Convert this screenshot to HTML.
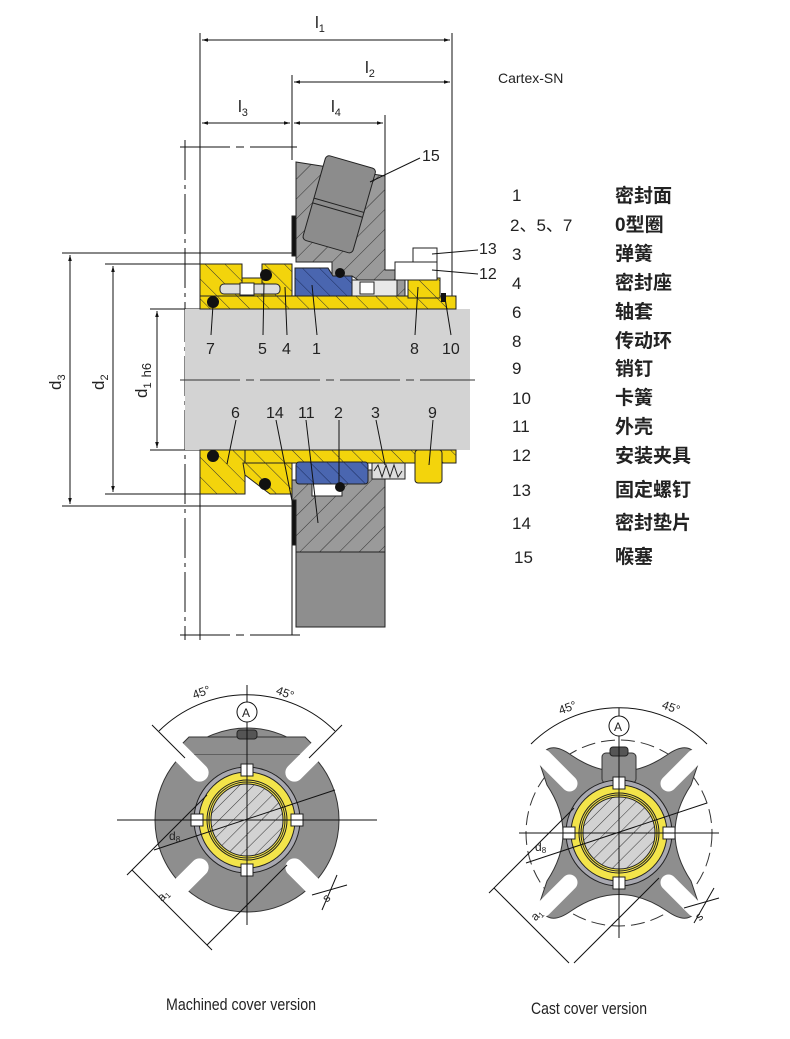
<!DOCTYPE html>
<html><head><meta charset="utf-8"><style>
html,body{margin:0;padding:0;background:#fff;}
svg{display:block;}
.t{font-family:"Liberation Sans",sans-serif;fill:#222;}
.cn{font-family:"Liberation Sans","Noto Sans CJK SC",sans-serif;fill:#222;font-size:19px;font-weight:bold;}
.nm{font-family:"Liberation Sans",sans-serif;fill:#222;font-size:17px;}
</style></head><body>
<svg width="790" height="1039" viewBox="0 0 790 1039" xmlns="http://www.w3.org/2000/svg">
<defs>
<pattern id="hg" width="14" height="14" patternUnits="userSpaceOnUse" patternTransform="rotate(45)">
<rect width="14" height="14" fill="#9a9a9a"/><line x1="0" y1="0" x2="0" y2="14" stroke="#333" stroke-width="1"/></pattern>
<pattern id="hy" width="14" height="14" patternUnits="userSpaceOnUse" patternTransform="rotate(-45)">
<rect width="14" height="14" fill="#f3d40c"/><line x1="0" y1="0" x2="0" y2="14" stroke="#333" stroke-width="1"/></pattern>
<pattern id="hb" width="12" height="12" patternUnits="userSpaceOnUse" patternTransform="rotate(-45)">
<rect width="12" height="12" fill="#4a66b0"/><line x1="0" y1="0" x2="0" y2="12" stroke="#1a2a5a" stroke-width="1"/></pattern>
<pattern id="hs" width="10" height="10" patternUnits="userSpaceOnUse" patternTransform="rotate(45)">
<rect width="10" height="10" fill="#d2d2d2"/><line x1="0" y1="0" x2="0" y2="10" stroke="#333" stroke-width="1"/></pattern>
<marker id="ar" viewBox="0 0 10 10" refX="10" refY="5" markerWidth="8" markerHeight="6" orient="auto-start-reverse"><path d="M0,2 L10,5 L0,8 z" fill="#111"/></marker>
</defs>

<g stroke="#111" stroke-width="1" fill="none">
<line x1="200" y1="33" x2="200" y2="640"/>
<line x1="452" y1="33" x2="452" y2="300"/>
<line x1="292" y1="75" x2="292" y2="160"/>
<line x1="385" y1="115" x2="385" y2="180"/>
<line x1="202" y1="40" x2="450" y2="40" marker-start="url(#ar)" marker-end="url(#ar)"/>
<line x1="294" y1="82" x2="450" y2="82" marker-start="url(#ar)" marker-end="url(#ar)"/>
<line x1="202" y1="123" x2="290" y2="123" marker-start="url(#ar)" marker-end="url(#ar)"/>
<line x1="294" y1="123" x2="383" y2="123" marker-start="url(#ar)" marker-end="url(#ar)"/>
<line x1="185" y1="140" x2="185" y2="640" stroke-dasharray="40,5,4,5"/>
<line x1="180" y1="147" x2="297" y2="147" stroke-dasharray="50,6,8,6"/>
<line x1="180" y1="635" x2="300" y2="635" stroke-dasharray="50,6,8,6"/>
<line x1="62" y1="253" x2="300" y2="253"/>
<line x1="105" y1="264" x2="200" y2="264"/>
<line x1="150" y1="309" x2="200" y2="309"/>
<line x1="150" y1="450" x2="200" y2="450"/>
<line x1="105" y1="494" x2="200" y2="494"/>
<line x1="62" y1="506" x2="300" y2="506"/>
<line x1="70" y1="255" x2="70" y2="504" marker-start="url(#ar)" marker-end="url(#ar)"/>
<line x1="113" y1="266" x2="113" y2="492" marker-start="url(#ar)" marker-end="url(#ar)"/>
<line x1="157" y1="311" x2="157" y2="448" marker-start="url(#ar)" marker-end="url(#ar)"/>
<line x1="292" y1="520" x2="292" y2="635"/>
</g>
<text class="t" x="315" y="28" font-size="17">l<tspan font-size="11" dy="4">1</tspan></text>
<text class="t" x="365" y="73" font-size="17">l<tspan font-size="11" dy="4">2</tspan></text>
<text class="t" x="238" y="112" font-size="17">l<tspan font-size="11" dy="4">3</tspan></text>
<text class="t" x="331" y="112" font-size="17">l<tspan font-size="11" dy="4">4</tspan></text>
<text class="t" font-size="17" transform="translate(61,390) rotate(-90)">d<tspan font-size="11" dy="4">3</tspan></text>
<text class="t" font-size="17" transform="translate(104,390) rotate(-90)">d<tspan font-size="11" dy="4">2</tspan></text>
<text class="t" font-size="17" transform="translate(147,398) rotate(-90)">d<tspan font-size="11" dy="4">1</tspan><tspan font-size="13" dx="5">h6</tspan></text>
<text class="t" x="498" y="83" font-size="14">Cartex-SN</text>

<rect x="185" y="309" width="285" height="141" fill="#d3d3d3"/>
<line x1="180" y1="380" x2="475" y2="380" stroke="#333" stroke-dasharray="60,6,8,6"/>

<g stroke="#222" stroke-width="1">
<polygon points="296,162 385,176 385,270 405,270 405,296 382,296 352,276 332,276 332,262 296,262" fill="url(#hg)"/>
<g transform="rotate(16 338 205)">
<rect x="313" y="160" width="52" height="88" rx="4" fill="#8c8c8c"/>
<line x1="313" y1="205" x2="365" y2="205"/><line x1="313" y1="210" x2="365" y2="210"/>
</g>
<rect x="292" y="216" width="4" height="40" fill="#111"/>
<rect x="200" y="296" width="256" height="13" fill="url(#hy)"/>
<rect x="200" y="264" width="42" height="32" fill="url(#hy)"/>
<rect x="262" y="264" width="30" height="32" fill="url(#hy)"/>
<rect x="242" y="278" width="20" height="18" fill="#f3d40c"/>
<polygon points="295,268 328,268 333,276 352,276 352,296 295,296" fill="url(#hb)"/>
<rect x="352" y="280" width="45" height="16" fill="#e8e8e8"/>
<rect x="220" y="284" width="60" height="10" rx="4" fill="#ddd"/>
<rect x="240" y="283" width="14" height="12" fill="#fff"/>
<rect x="360" y="282" width="14" height="12" fill="#fff"/>
<rect x="408" y="278" width="32" height="20" fill="url(#hy)"/>
<polygon points="395,262 413,262 413,248 437,248 437,280 395,280" fill="#fff"/>
<line x1="413" y1="262" x2="437" y2="262"/>
</g>
<circle cx="266" cy="275" r="6" fill="#111"/>
<circle cx="340" cy="273" r="5" fill="#111"/>
<circle cx="213" cy="302" r="6" fill="#111"/>
<rect x="441" y="293" width="5" height="9" fill="#111"/>

<g stroke="#222" stroke-width="1">
<polygon points="292,480 330,480 330,470 385,470 385,552 296,552 296,520 292,520" fill="url(#hg)"/>
<rect x="296" y="552" width="89" height="75" fill="#8e8e8e"/>
<rect x="292" y="500" width="4" height="45" fill="#111"/>
<rect x="200" y="450" width="256" height="13" fill="url(#hy)"/>
<rect x="200" y="450" width="45" height="44" fill="url(#hy)"/>
<polygon points="243,463 292,463 292,494 270,494 245,475" fill="url(#hy)"/>
<rect x="296" y="462" width="72" height="22" rx="3" fill="url(#hb)"/>
<rect x="372" y="463" width="33" height="16" fill="#ddd"/>
<polyline points="374,471 378,465 382,477 386,465 390,477 394,465 398,477 402,471" fill="none"/>
<rect x="415" y="450" width="27" height="33" rx="3" fill="#f3d40c"/>
<rect x="312" y="484" width="30" height="12" fill="#fff"/>
</g>
<circle cx="213" cy="456" r="6" fill="#111"/>
<circle cx="265" cy="484" r="6" fill="#111"/>
<circle cx="340" cy="487" r="5" fill="#111"/>

<g stroke="#111" stroke-width="1">
<line x1="420" y1="158" x2="370" y2="182"/>
<line x1="478" y1="250" x2="432" y2="254"/>
<line x1="478" y1="274" x2="432" y2="270"/>
<line x1="211" y1="335" x2="213" y2="305"/>
<line x1="263" y1="335" x2="264" y2="283"/>
<line x1="287" y1="335" x2="285" y2="287"/>
<line x1="317" y1="335" x2="312" y2="285"/>
<line x1="415" y1="335" x2="418" y2="287"/>
<line x1="451" y1="335" x2="445" y2="298"/>
<line x1="236" y1="420" x2="227" y2="464"/>
<line x1="276" y1="420" x2="293" y2="506"/>
<line x1="306" y1="420" x2="318" y2="523"/>
<line x1="339" y1="420" x2="339" y2="482"/>
<line x1="376" y1="420" x2="385" y2="465"/>
<line x1="433" y1="420" x2="429" y2="465"/>
</g>
<g class="t" font-size="16">
<text x="422" y="161">15</text><text x="479" y="254">13</text><text x="479" y="279">12</text>
<text x="206" y="354">7</text><text x="258" y="354">5</text><text x="282" y="354">4</text><text x="312" y="354">1</text>
<text x="410" y="354">8</text><text x="442" y="354">10</text>
<text x="231" y="418">6</text><text x="266" y="418">14</text><text x="298" y="418">11</text>
<text x="334" y="418">2</text><text x="371" y="418">3</text><text x="428" y="418">9</text>
</g>

<g class="nm">
<text x="512" y="201">1</text><text x="510" y="231">2、5、7</text><text x="512" y="260">3</text>
<text x="512" y="289">4</text><text x="512" y="318">6</text><text x="512" y="347">8</text>
<text x="512" y="374">9</text><text x="512" y="404">10</text><text x="512" y="432">11</text>
<text x="512" y="461">12</text><text x="512" y="496">13</text><text x="512" y="529">14</text><text x="514" y="563">15</text>
</g>
<g class="cn">
<text x="615" y="202">密封面</text><text x="615" y="231">0型圈</text><text x="615" y="260">弹簧</text>
<text x="615" y="289">密封座</text><text x="615" y="318">轴套</text><text x="615" y="347">传动环</text>
<text x="615" y="375">销钉</text><text x="615" y="404">卡簧</text><text x="615" y="433">外壳</text>
<text x="615" y="462">安装夹具</text><text x="615" y="496">固定螺钉</text><text x="615" y="529">密封垫片</text><text x="615" y="563">喉塞</text>
</g>

<g transform="translate(247,820)">
<circle r="92" fill="#8e8e8e" stroke="#333"/>
<path d="M-58,-83 L58,-83 L75,-66 L-75,-66 Z" fill="#8e8e8e" stroke="#333"/>
<path d="M-57,-82 L57,-82 L73,-66 L-73,-66 Z" fill="#8e8e8e"/>
<g fill="#fff">
<rect x="-9" y="-110" width="18" height="52" rx="9" transform="rotate(45)"/>
<rect x="-9" y="-110" width="18" height="52" rx="9" transform="rotate(-45)"/>
<rect x="-9" y="58" width="18" height="52" rx="9" transform="rotate(45)"/>
<rect x="-9" y="58" width="18" height="52" rx="9" transform="rotate(-45)"/>
</g>
<rect x="-10" y="-90" width="20" height="9" rx="3" fill="#555" stroke="#222"/>
<circle r="53" fill="#a8a8b0" stroke="#222"/>
<circle r="48" fill="#f3e44a" stroke="#222"/>
<circle r="40" fill="none" stroke="#222"/><circle r="38" fill="none" stroke="#222"/>
<circle r="36" fill="url(#hs)" stroke="#222"/>
<g fill="#fff" stroke="#222"><rect x="-6" y="-56" width="12" height="12"/><rect x="-6" y="44" width="12" height="12"/><rect x="-56" y="-6" width="12" height="12"/><rect x="44" y="-6" width="12" height="12"/></g>
<g stroke="#111" fill="none">
<line x1="-130" y1="0" x2="130" y2="0"/><line x1="0" y1="-135" x2="0" y2="105"/>
<path d="M-88,-89 A125,125 0 0 1 88,-89"/>
<line x1="-95" y1="-95" x2="-62" y2="-62"/><line x1="95" y1="-95" x2="62" y2="-62"/>
<line x1="-93" y1="30" x2="88" y2="-30"/>
<line x1="-40" y1="-25" x2="-120" y2="55"/><line x1="40" y1="45" x2="-40" y2="125"/>
<line x1="-115" y1="50" x2="-35" y2="130"/>
<line x1="65" y1="75" x2="100" y2="65"/><line x1="75" y1="90" x2="90" y2="55"/>
</g>
<circle cx="0" cy="-108" r="10" fill="#fff" stroke="#111"/>
<text class="t" x="-5" y="-103" font-size="12">A</text>
<text class="t" x="-54" y="-122" font-size="12" transform="rotate(-20 -50 -125)">45°</text>
<text class="t" x="28" y="-125" font-size="12" transform="rotate(20 32 -125)">45°</text>
<text class="t" x="-78" y="20" font-size="12">d<tspan font-size="8" dy="2">8</tspan></text>
<text class="t" x="-85" y="78" font-size="12" transform="rotate(-45 -80 80)">a<tspan font-size="8" dy="2">1</tspan></text>
<text class="t" x="78" y="82" font-size="12" transform="rotate(-45 80 80)">s</text>
</g>

<g transform="translate(619,833)">
<circle r="93" fill="none" stroke="#333" stroke-dasharray="14,6"/>
<path d="M48,-78 Q72,-95 80,-72 L72,-48 Q40,0 72,48 L80,72 Q72,95 48,78 Q0,45 -48,78 Q-72,95 -80,72 L-72,48 Q-40,0 -72,-48 L-80,-72 Q-72,-95 -48,-78 Q0,-45 48,-78 Z" fill="#8e8e8e" stroke="#333"/>
<g fill="#fff">
<rect x="-8" y="-115" width="16" height="53" rx="8" transform="rotate(45)"/>
<rect x="-8" y="-115" width="16" height="53" rx="8" transform="rotate(-45)"/>
<rect x="-8" y="62" width="16" height="53" rx="8" transform="rotate(45)"/>
<rect x="-8" y="62" width="16" height="53" rx="8" transform="rotate(-45)"/>
</g>
<rect x="-17" y="-80" width="34" height="30" rx="4" fill="#8e8e8e" stroke="#333"/>
<rect x="-9" y="-86" width="18" height="9" rx="3" fill="#555" stroke="#222"/>
<circle r="53" fill="#a8a8b0" stroke="#222"/>
<circle r="48" fill="#f3e44a" stroke="#222"/>
<circle r="40" fill="none" stroke="#222"/><circle r="38" fill="none" stroke="#222"/>
<circle r="36" fill="url(#hs)" stroke="#222"/>
<g fill="#fff" stroke="#222"><rect x="-6" y="-56" width="12" height="12"/><rect x="-6" y="44" width="12" height="12"/><rect x="-56" y="-6" width="12" height="12"/><rect x="44" y="-6" width="12" height="12"/></g>
<g stroke="#111" fill="none">
<line x1="-100" y1="0" x2="100" y2="0"/><line x1="0" y1="-125" x2="0" y2="105"/>
<path d="M-88,-89 A125,125 0 0 1 88,-89"/>
<line x1="-93" y1="30" x2="88" y2="-30"/>
<line x1="-45" y1="-25" x2="-130" y2="60"/><line x1="40" y1="45" x2="-45" y2="130"/>
<line x1="-125" y1="55" x2="-50" y2="130"/>
<line x1="65" y1="75" x2="100" y2="65"/><line x1="75" y1="90" x2="95" y2="55"/>
</g>
<circle cx="0" cy="-107" r="10" fill="#fff" stroke="#111"/>
<text class="t" x="-5" y="-102" font-size="12">A</text>
<text class="t" x="-60" y="-120" font-size="12" transform="rotate(-20 -55 -123)">45°</text>
<text class="t" x="42" y="-124" font-size="12" transform="rotate(20 45 -124)">45°</text>
<text class="t" x="-84" y="18" font-size="12">d<tspan font-size="8" dy="2">8</tspan></text>
<text class="t" x="-85" y="85" font-size="12" transform="rotate(-45 -80 85)">a<tspan font-size="8" dy="2">1</tspan></text>
<text class="t" x="78" y="88" font-size="12" transform="rotate(-45 80 85)">s</text>
</g>

<text class="t" x="166" y="1010" font-size="17" textLength="150" lengthAdjust="spacingAndGlyphs">Machined cover version</text>
<text class="t" x="531" y="1014" font-size="17" textLength="116" lengthAdjust="spacingAndGlyphs">Cast cover version</text>
</svg>
</body></html>
